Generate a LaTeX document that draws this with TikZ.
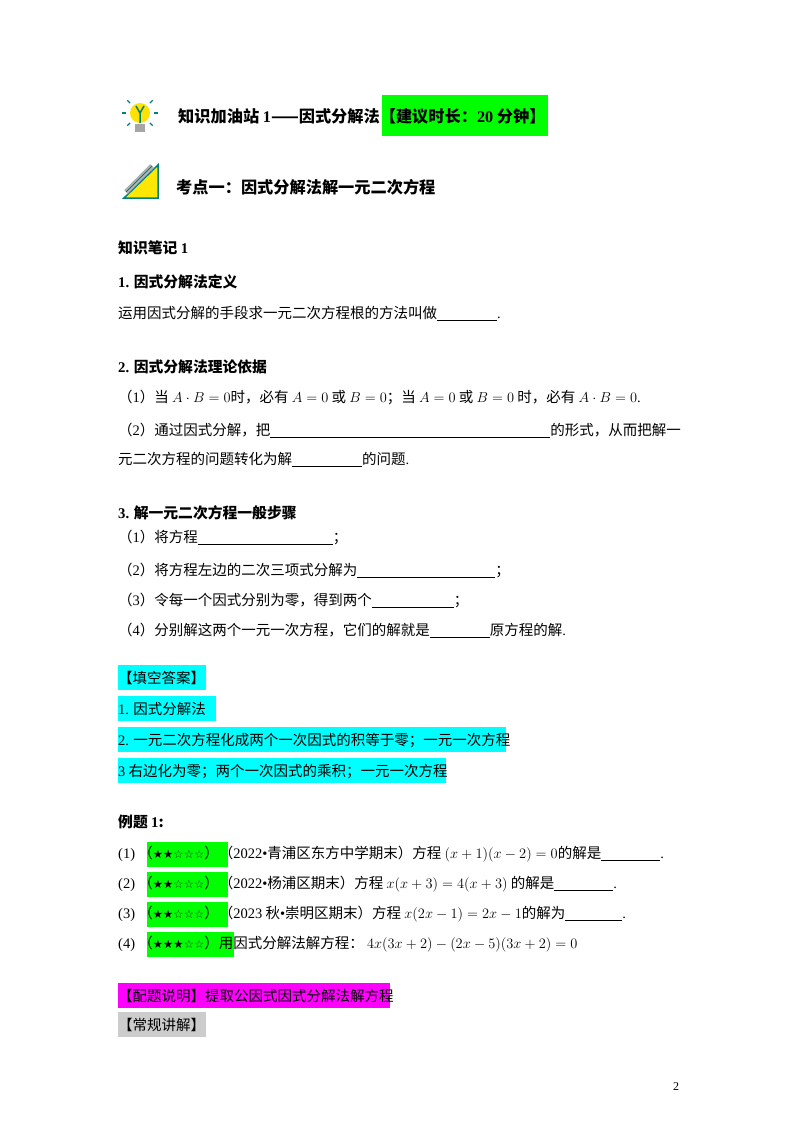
\documentclass[tikz,border=0pt]{standalone}
\usepackage{fontspec}
\usetikzlibrary{calc}
\setmainfont{Noto Sans CJK SC}
\newfontfamily\tm{Liberation Serif}
\newfontfamily\djv{DejaVu Sans}
\newcommand{\blank}[1]{\rule[-2pt]{#1pt}{0.5pt}}
\newcommand{\st}[2]{{\djv\fontsize{11.5}{12}\selectfont #1{\color{black!80}#2}}}
\newcommand{\mm}[1]{{\fontsize{14}{16}\selectfont$#1$}}
\definecolor{hcyan}{RGB}{0,255,255}
\definecolor{hgreen}{RGB}{0,255,0}
\definecolor{hmag}{RGB}{255,0,255}
\begin{document}
\begin{tikzpicture}[x=1pt,y=-1pt,
  t/.style={anchor=base west,inner sep=0pt,font=\fontsize{14.5}{17}\selectfont},
  h/.style={t,font=\fontsize{14.8}{17}\selectfont\bfseries},
  hh/.style={t,font=\fontsize{16.2}{18}\selectfont\bfseries}]
\useasboundingbox (0,0) rectangle (800,1132);
\fill[white] (0,0) rectangle (800,1132);
% icons
\fill[yellow!85!orange] (140,113) circle (10);
\fill[gray!70] (135,124) rectangle (145,132);
\draw[teal,line width=1.5] (140,113) -- (136,106) (140,113) -- (144,106) (140,113)--(140,123);
\foreach \a in {0,45,135,180,225,315} \draw[teal,line width=1.2] ($(140,113)+(\a:14)$) -- ($(140,113)+(\a:18)$);
\fill[yellow!90!orange] (124,198) -- (158,165) -- (158,198) -- cycle;
\draw[teal,line width=1.5] (124,198) -- (158,165) -- (158,198) -- cycle;
\draw[gray!60,line width=5] (126,192) -- (152,166);
\draw[teal,line width=1] (126,192) -- (152,166);
% highlights
\fill[hgreen] (382,95) rectangle (548,136);
\fill[hcyan] (118,665) rectangle (206,690);
\fill[hcyan] (118,696) rectangle (216,721);
\fill[hcyan] (118,727) rectangle (506,752);
\fill[hcyan] (118,758) rectangle (446,783);
\fill[hgreen] (147,842) rectangle (228,867);
\fill[hgreen] (147,872) rectangle (228,897);
\fill[hgreen] (147,902) rectangle (228,927);
\fill[hgreen] (147,932) rectangle (234,957);
\fill[hmag] (118,983) rectangle (390,1008);
\fill[gray!40] (118,1012) rectangle (206,1037);
% texts
\node[hh] (title) at (178,122) {知识加油站 {\tm 1}——因式分解法【建议时长：{\tm 20} 分钟】};
\node[hh] (kd) at (176,193) {考点一：因式分解法解一元二次方程};
\node[h] (bj) at (118,253) {知识笔记 {\tm 1}};
\node[h] (s1) at (118,287) {{\tm 1.} 因式分解法定义};
\node[t] (l1) at (118,318) {运用因式分解的手段求一元二次方程根的方法叫做\blank{60}{\tm .}};
\node[h] (s2) at (118,372) {{\tm 2.} 因式分解法理论依据};
\node[t] (l2) at (118,402) {（{\tm 1}）当 \mm{A\cdot B=0}时，必有 \mm{A=0} 或 \mm{B=0}；当 \mm{A=0} 或 \mm{B=0} 时，必有 \mm{A\cdot B=0}{\tm .}};
\node[t] (l3) at (118,435) {（{\tm 2}）通过因式分解，把\blank{280}的形式，从而把解一};
\node[t] (l4) at (118,464) {元二次方程的问题转化为解\blank{70}的问题{\tm .}};
\node[h] (s3) at (118,518) {{\tm 3.} 解一元二次方程一般步骤};
\node[t] (p1) at (118,542) {（{\tm 1}）将方程\blank{135}；};
\node[t] (p2) at (118,575) {（{\tm 2}）将方程左边的二次三项式分解为\blank{138}；};
\node[t] (p3) at (118,605) {（{\tm 3}）令每一个因式分别为零，得到两个\blank{82}；};
\node[t] (p4) at (118,635) {（{\tm 4}）分别解这两个一元一次方程，它们的解就是\blank{60}原方程的解{\tm .}};
\node[t] (a0) at (118,683) {【填空答案】};
\node[t] (a1) at (118,714) {{\tm 1.} 因式分解法};
\node[t] (a2) at (118,745) {{\tm 2.} 一元二次方程化成两个一次因式的积等于零；一元一次方程};
\node[t] (a3) at (118,776) {{\tm 3} 右边化为零；两个一次因式的乘积；一元一次方程};
\node[h] (lt) at (118,827) {例题 {\tm 1}:};
\node[t] (e1) at (118,858) {{\tm (1)} （\st{★★}{☆☆☆}）（{\tm 2022•}青浦区东方中学期末）方程 \mm{(x+1)(x-2)=0}的解是\blank{59}{\tm .}};
\node[t] (e2) at (118,888) {{\tm (2)} （\st{★★}{☆☆☆}）（{\tm 2022•}杨浦区期末）方程 \mm{x(x+3)=4(x+3)} 的解是\blank{59}{\tm .}};
\node[t] (e3) at (118,918) {{\tm (3)} （\st{★★}{☆☆☆}）（{\tm 2023} 秋{\tm •}崇明区期末）方程 \mm{x(2x-1)=2x-1}的解为\blank{57}{\tm .}};
\node[t] (e4) at (118,948) {{\tm (4)} （\st{★★★}{☆☆}）用因式分解法解方程： \mm{4x(3x+2)-(2x-5)(3x+2)=0}};
\node[t] (pt) at (118,1001) {【配题说明】提取公因式因式分解法解方程};
\node[t] (cg) at (118,1030) {【常规讲解】};
\node[t,font=\tm\fontsize{12}{14}\selectfont] (pg) at (673,1090) {2};
\end{tikzpicture}
\end{document}
